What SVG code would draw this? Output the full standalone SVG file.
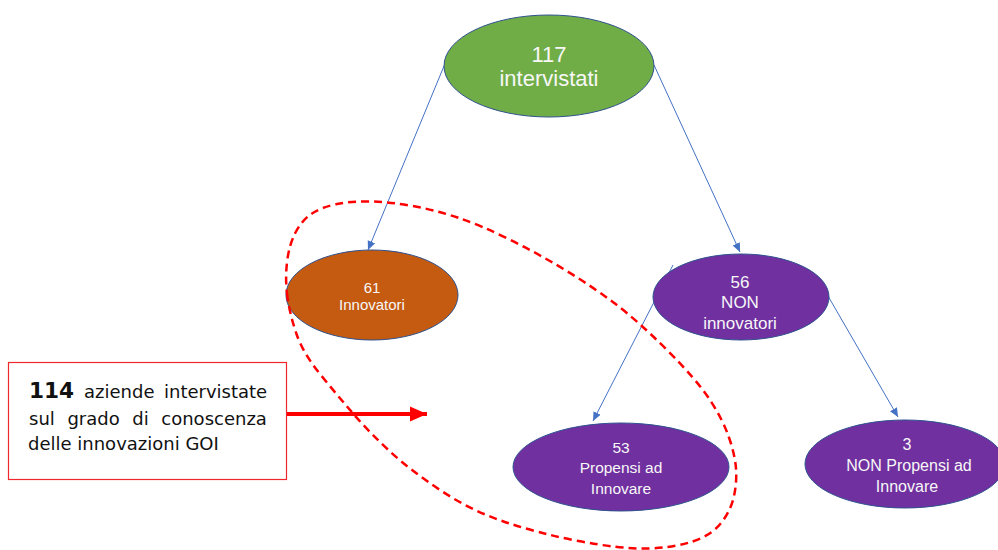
<svg xmlns="http://www.w3.org/2000/svg" width="998" height="550" viewBox="0 0 998 550">
<defs>
<style>
.node{stroke:#2F528F;stroke-width:1}
.lbl{font-family:"Liberation Sans",Arial,sans-serif;fill:#F7F7F7;text-anchor:middle}
.conn{stroke:#4472C4;stroke-width:1;fill:none;marker-end:url(#ah)}
.note{font-family:"DejaVu Sans",Verdana,sans-serif;font-size:18px;fill:#111}
</style>
<marker id="ah" markerUnits="userSpaceOnUse" markerWidth="10" markerHeight="10" viewBox="0 0 10 10" refX="9" refY="5" orient="auto">
<path d="M0,1 L9,5 L0,9 z" fill="#4472C4"/>
</marker>
<marker id="rh" markerUnits="userSpaceOnUse" markerWidth="18" markerHeight="16" viewBox="0 0 18 16" refX="17" refY="8" orient="auto">
<path d="M0,0.5 L17,8 L0,15.5 z" fill="#FF0000"/>
</marker>
</defs>
<rect width="998" height="550" fill="#FFFFFF"/>
<g id="connectors">
<line class="conn" x1="444" y1="66" x2="368" y2="250"/>
<line class="conn" x1="654" y1="65" x2="740" y2="252"/>
<line class="conn" x1="673" y1="265" x2="593" y2="421"/>
<line class="conn" x1="828" y1="296" x2="898" y2="417"/>
</g>
<g id="n117">
<ellipse class="node" cx="549" cy="66" rx="105" ry="51" fill="#70AD47"/>
<text class="lbl" x="549" y="62" font-size="22">117</text>
<text class="lbl" x="549" y="86" font-size="22">intervistati</text>
</g>
<g id="n61">
<ellipse class="node" cx="372" cy="295" rx="86" ry="45" fill="#C55A11"/>
<text class="lbl" x="372" y="293" font-size="15">61</text>
<text class="lbl" x="372" y="310" font-size="15">Innovatori</text>
</g>
<g id="n56">
<ellipse class="node" cx="741" cy="297" rx="88" ry="43" fill="#7030A0"/>
<text class="lbl" x="740" y="288" font-size="17">56</text>
<text class="lbl" x="740" y="308" font-size="17">NON</text>
<text class="lbl" x="740" y="329" font-size="17">innovatori</text>
</g>
<g id="n53">
<ellipse class="node" cx="621" cy="467" rx="108" ry="44" fill="#7030A0"/>
<text class="lbl" x="621" y="453" font-size="15.5">53</text>
<text class="lbl" x="621" y="473" font-size="15.5">Propensi ad</text>
<text class="lbl" x="621" y="494" font-size="15.5">Innovare</text>
</g>
<g id="n3">
<ellipse class="node" cx="905" cy="464" rx="100" ry="44" fill="#7030A0"/>
<text class="lbl" x="907" y="450" font-size="16">3</text>
<text class="lbl" x="909" y="471" font-size="16">NON Propensi ad</text>
<text class="lbl" x="907" y="492" font-size="16">Innovare</text>
</g>
<g id="highlight">
<path d="M 287.5,297.5 Q 285,280 287,262.5 Q 289,245 295.5,232.5 Q 302,220 312,213.5 Q 322,207 337,204 Q 352,201 371,201.5 Q 390,202 412.5,206 Q 435,210 457.5,217.5 Q 480,225 508.5,239 Q 537,253 563.5,269 Q 590,285 613.5,302.5 Q 637,320 667,350 Q 697,380 710,400 Q 723,420 729,437.5 Q 735,455 736,468.5 Q 737,482 734,496 Q 731,510 721.5,522.5 Q 712,535 692.5,541.5 Q 673,548 646.5,548.5 Q 620,549 578.5,541 Q 537,533 503.5,521.5 Q 470,510 440,490 Q 410,470 390,451.5 Q 370,433 353.5,414 Q 337,395 320,374 Q 303,353 296.5,334 Q 290,315 287.5,297.5 Z" fill="none" stroke="#FF0000" stroke-width="2.5" stroke-dasharray="8 5"/>
</g>
<g id="note">
<rect x="8.5" y="362.5" width="278" height="117" fill="#FFFFFF" stroke="#F0282D" stroke-width="1.2"/>
<text class="note" y="398"><tspan x="29" font-weight="bold" font-size="21.6">114</tspan><tspan x="84">aziende</tspan><tspan x="164">intervistate</tspan></text>
<text class="note" y="425"><tspan x="29">sul</tspan><tspan x="67.4">grado</tspan><tspan x="132.3">di</tspan><tspan x="161.3">conoscenza</tspan></text>
<text class="note" x="28" y="450">delle innovazioni GOI</text>
</g>
<g id="arrow">
<line x1="287" y1="414" x2="427" y2="414" stroke="#FF0000" stroke-width="4" marker-end="url(#rh)"/>
</g>
</svg>
